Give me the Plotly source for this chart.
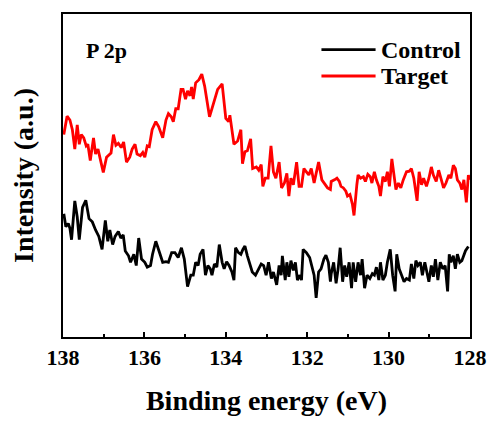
import plotly.graph_objects as go

# Target (red) series: binding energy (eV) and intensity (a.u.)
target_ev = [137.98,137.90,137.83,137.77,137.71,137.65,137.60,137.55,137.49,137.43,137.39,137.33,137.25,137.20,137.14,137.09,137.01,136.93,136.82,136.76,136.70,136.64,136.57,136.51,136.44,136.36,136.30,136.23,136.18,136.10,136.04,135.99,135.93,135.88,135.81,135.72,135.65,135.55,135.47,135.41,135.34,135.29,135.23,135.17,135.10,135.05,134.99,134.94,134.88,134.84,
             134.80,134.74,134.66,134.59,134.52,134.40,134.30,134.20,134.09,134.00,133.93,133.90,133.80,133.71,133.63,133.59,133.53,133.47,133.39,133.34,133.25,133.19,133.13,133.09,133.03,132.96,132.89,132.83,132.77,132.69,132.63,132.56,132.50,132.45,132.40,132.34,132.26,132.20,132.14,132.08,132.02,131.96,131.90,131.83,131.78,131.72,131.64,131.58,131.50,131.43,
             131.41,131.33,131.27,131.21,131.17,131.11,131.05,131.01,130.95,130.89,130.85,130.78,130.75,130.69,130.62,130.57,130.51,130.45,130.41,130.35,130.30,130.24,130.20,130.14,130.08,130.03,129.98,129.92,129.86,129.82,129.76,129.70,129.64,129.56,129.49,129.44,129.38,129.33,129.30,129.25,129.19,129.14,129.07,129.01,128.95,128.90,128.83,128.77,128.71,128.65,128.59,128.52,128.47,128.41,128.36,128.31,128.25,128.20,128.15,128.09,128.04,128.01]
target_int = [208.7,227.7,223.7,213.7,193.7,218.7,198.7,208.7,205.3,197.0,198.7,182.0,205.3,188.7,193.7,183.7,169.7,185.3,189.7,208.7,197.7,199.7,195.3,201.0,180.3,185.3,193.7,198.7,188.7,187.0,190.3,185.3,197.0,196.3,213.7,222.0,217.0,205.3,223.7,230.3,227.0,222.0,235.3,235.3,255.3,255.3,245.3,253.7,248.7,257.7,
              245.3,262.0,265.3,271.0,258.7,227.0,240.3,255.3,261.0,225.3,222.0,228.7,198.7,202.0,213.7,178.7,191.0,192.0,204.3,173.7,175.3,172.0,177.7,155.3,163.7,163.7,197.0,170.3,163.7,180.3,153.7,158.7,168.7,145.3,163.7,157.0,180.3,155.3,155.3,173.7,170.3,167.0,173.7,158.7,168.7,180.3,162.0,158.7,153.7,152.0,
              160.3,162.0,163.7,160.3,155.3,153.7,150.3,145.3,147.0,137.0,125.3,157.0,167.0,163.7,165.3,160.3,167.7,165.3,158.7,170.3,162.0,155.3,145.3,165.3,160.3,170.3,155.3,183.7,167.0,152.0,158.7,153.7,162.0,170.3,171.0,173.7,163.7,148.7,140.3,170.3,157.0,163.7,155.3,163.7,175.3,167.0,160.3,172.0,163.7,153.7,158.7,167.0,163.7,177.0,173.7,162.0,158.7,152.0,162.0,138.7,167.0,162.0]

# Control (black) series
control_ev = [137.98,137.93,137.87,137.83,137.79,137.71,137.65,137.60,137.52,137.44,137.36,137.28,137.20,137.12,137.04,136.96,136.90,136.85,136.78,136.72,136.64,136.58,136.52,136.47,136.39,136.34,136.26,136.20,136.14,136.07,135.99,135.93,135.85,135.80,135.72,135.64,135.55,135.47,135.41,135.33,135.25,135.17,135.09,135.02,134.94,134.86,
              134.80,134.74,134.68,134.63,134.56,134.50,134.44,134.38,134.34,134.28,134.22,134.16,134.09,134.04,133.98,133.92,133.85,133.80,133.76,133.69,133.63,133.58,133.53,133.47,133.42,133.35,133.27,133.19,133.13,133.07,133.01,132.95,132.88,132.83,132.75,132.69,132.64,132.61,132.54,132.50,132.45,132.40,132.34,132.29,132.24,132.18,132.14,132.10,132.02,131.94,131.88,131.83,131.78,131.72,131.66,131.59,131.54,131.48,131.43,
              131.41,131.35,131.29,131.24,131.19,131.13,131.08,131.03,130.97,130.91,130.87,130.81,130.75,130.69,130.65,130.59,130.53,130.46,130.40,130.35,130.30,130.24,130.20,130.14,130.08,130.03,129.96,129.90,129.84,129.80,129.74,129.68,129.62,129.56,129.49,129.44,129.38,129.33,129.28,129.22,129.17,129.11,129.06,129.01,128.95,128.90,128.85,128.79,128.73,128.67,128.61,128.55,128.51,128.47,128.41,128.36,128.31,128.25,128.20,128.15,128.11,128.04]
control_int = [127.0,113.7,117.0,112.0,100.3,140.3,123.7,100.3,133.7,141.0,122.0,118.7,110.3,103.7,90.3,120.3,98.7,110.3,95.3,103.7,108.7,102.0,105.3,88.7,83.7,77.0,85.3,73.7,102.0,80.3,77.0,72.0,73.7,85.3,98.7,88.7,77.0,77.7,77.0,87.0,87.0,82.0,92.0,80.3,52.0,63.7,
               63.7,77.0,73.7,85.3,90.3,63.7,73.7,70.3,63.7,75.3,72.0,95.3,77.0,70.3,77.7,73.7,67.0,58.7,92.0,87.0,85.3,90.3,93.7,83.7,77.0,67.0,63.7,70.3,75.3,73.7,63.7,77.0,60.3,67.0,53.7,73.7,63.7,83.7,58.7,77.0,62.0,78.7,68.7,77.0,58.7,63.7,58.7,90.3,87.0,82.0,72.0,63.7,40.3,67.0,70.3,80.3,84.3,77.0,57.0,
               65.3,77.0,55.3,70.3,92.0,57.0,73.7,62.0,77.0,50.3,77.0,57.0,77.0,63.7,80.3,50.3,63.7,60.3,65.3,63.7,72.0,58.7,77.0,58.7,63.7,77.0,90.3,63.7,47.0,85.3,70.3,63.7,57.0,60.3,58.7,75.3,60.3,78.7,73.7,77.0,63.7,77.0,67.0,57.0,73.7,62.0,80.3,58.7,77.0,70.3,73.7,47.0,85.3,77.0,83.7,70.3,85.3,77.0,78.7,85.3,89.0,93.3]

series_names = ["Control", "Target"]
series_colors = ["#000000", "#FF0000"]
x_ticks = [138, 136, 134, 132, 130, 128]

FONT = "Liberation Serif"

fig = go.Figure()
fig.add_trace(go.Scatter(x=control_ev, y=control_int, mode="lines", name=series_names[0],
                         line=dict(color=series_colors[0], width=2.8), showlegend=False))
fig.add_trace(go.Scatter(x=target_ev, y=target_int, mode="lines", name=series_names[1],
                         line=dict(color=series_colors[1], width=2.8), showlegend=False))

fig.update_layout(
    width=499, height=423,
    margin=dict(l=63, r=23, t=14, b=76),
    paper_bgcolor="white", plot_bgcolor="white",
    font=dict(family=FONT, color="black"),
)
fig.update_xaxes(
    range=[138, 128], tickvals=x_ticks, ticktext=[str(v) for v in x_ticks],
    ticks="inside", ticklen=5, tickwidth=1.5, tickcolor="black",
    minor=dict(dtick=1, ticks="inside", ticklen=3, tickwidth=1.5, tickcolor="black"),
    showline=True, linewidth=2, linecolor="black", mirror=True,
    showgrid=False, zeroline=False,
    tickfont=dict(family=FONT, size=22, weight="bold"),
    title=dict(text="Binding energy (eV)", font=dict(family=FONT, size=28, weight="bold"), standoff=21),
)
fig.update_yaxes(
    range=[0, 333], showticklabels=False, ticks="",
    showline=True, linewidth=2, linecolor="black", mirror=True,
    showgrid=False, zeroline=False,
    title=dict(text="Intensity (a.u.)", font=dict(family=FONT, size=28, weight="bold"), standoff=19),
)

# "P 2p" label
fig.add_annotation(x=0.052, y=0.887, xref="paper", yref="paper", text="<b>P 2p</b>",
                   showarrow=False, xanchor="left", yanchor="middle",
                   font=dict(family=FONT, size=22, color="black"))

# Legend drawn as line samples plus text
leg_y = [0.89, 0.808]
for name, color, yy in zip(series_names, series_colors, leg_y):
    fig.add_shape(type="line", xref="paper", yref="paper", x0=0.635, x1=0.768, y0=yy, y1=yy,
                  line=dict(color=color, width=2.8))
    fig.add_annotation(x=0.776, y=yy, xref="paper", yref="paper", text=f"<b>{name}</b>",
                       showarrow=False, xanchor="left", yanchor="middle",
                       font=dict(family=FONT, size=24, color="black"))

fig.write_html("out.html")
